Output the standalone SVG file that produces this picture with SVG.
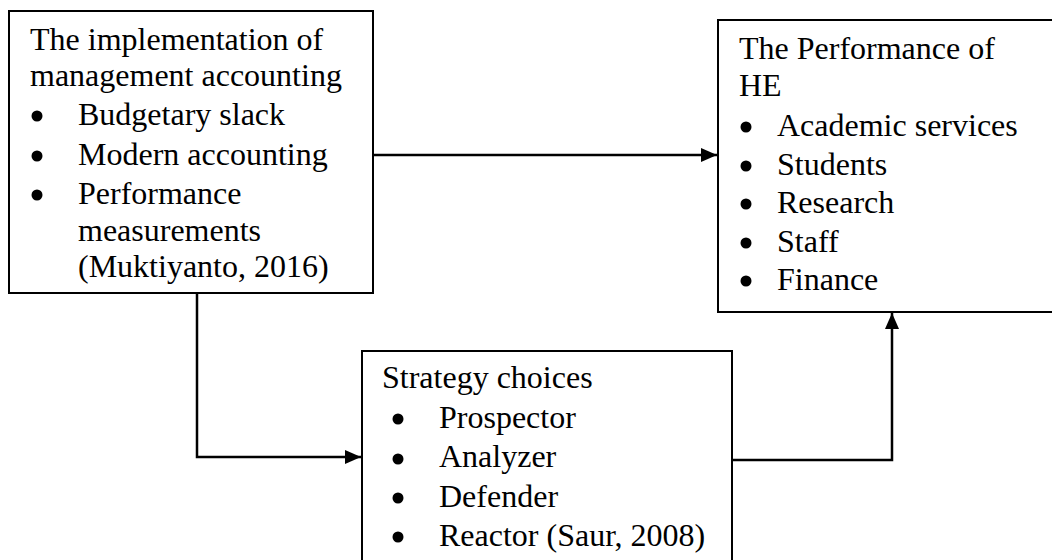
<svg xmlns="http://www.w3.org/2000/svg" width="1052" height="560" viewBox="0 0 1052 560">
<style>
.box{fill:#fff;stroke:#000;stroke-width:2}
.t{font-family:"Liberation Serif","Times New Roman",serif;font-size:32px;fill:#000}
.b{fill:#000}
.c{fill:none;stroke:#000;stroke-width:2.5}
</style>
<defs>
<marker id="ah" viewBox="0 0 10 10" refX="10" refY="5" markerWidth="6.4" markerHeight="5.6" markerUnits="strokeWidth" orient="auto" preserveAspectRatio="none">
<path d="M0,0 L10,5 L0,10 Z" fill="#000"/>
</marker>
</defs>
<rect width="1052" height="560" fill="#fff"/>
<g id="node-implementation">
<rect class="box" x="9" y="11" width="364" height="282"/>
<text class="t" x="30" y="50">The implementation of</text>
<text class="t" x="30" y="86">management accounting</text>
<circle class="b" cx="37" cy="116" r="5.5"/>
<text class="t" x="78" y="125">Budgetary slack</text>
<circle class="b" cx="37" cy="156" r="5.5"/>
<text class="t" x="78" y="165">Modern accounting</text>
<circle class="b" cx="37" cy="195" r="5.5"/>
<text class="t" x="78" y="204">Performance</text>
<text class="t" x="78" y="241">measurements</text>
<text class="t" x="78" y="277">(Muktiyanto, 2016)</text>
</g>
<g id="node-performance">
<rect class="box" x="718" y="20" width="344" height="292"/>
<text class="t" x="739" y="59">The Performance of</text>
<text class="t" x="739" y="96">HE</text>
<circle class="b" cx="746" cy="127" r="5.5"/>
<text class="t" x="777" y="136">Academic services</text>
<circle class="b" cx="746" cy="166" r="5.5"/>
<text class="t" x="777" y="175">Students</text>
<circle class="b" cx="746" cy="204" r="5.5"/>
<text class="t" x="777" y="213">Research</text>
<circle class="b" cx="746" cy="243" r="5.5"/>
<text class="t" x="777" y="252">Staff</text>
<circle class="b" cx="746" cy="281" r="5.5"/>
<text class="t" x="777" y="290">Finance</text>
</g>
<g id="node-strategy">
<rect class="box" x="362" y="351" width="370" height="220"/>
<text class="t" x="382" y="388">Strategy choices</text>
<circle class="b" cx="398" cy="419" r="5.5"/>
<text class="t" x="439" y="428">Prospector</text>
<circle class="b" cx="398" cy="459" r="5.5"/>
<text class="t" x="439" y="467">Analyzer</text>
<circle class="b" cx="398" cy="498" r="5.5"/>
<text class="t" x="439" y="507">Defender</text>
<circle class="b" cx="398" cy="537" r="5.5"/>
<text class="t" x="439" y="546">Reactor (Saur, 2008)</text>
</g>
<g id="connectors">
<path class="c" d="M373,155 L717,155" marker-end="url(#ah)"/>
<path class="c" d="M197,293 L197,457 L361,457" marker-end="url(#ah)"/>
<path class="c" d="M732,460 L892,460 L892,313" marker-end="url(#ah)"/>
</g>
</svg>
